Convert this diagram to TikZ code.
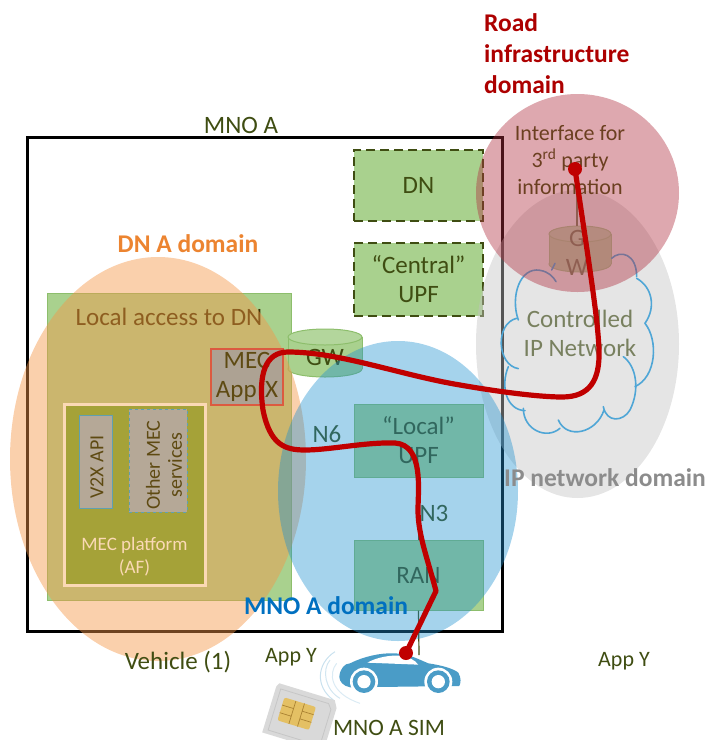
\documentclass[tikz,border=0pt]{standalone}
\usepackage{fontspec}
\setmainfont{Carlito}
\definecolor{boxgreen}{HTML}{A9D18E}
\definecolor{boxedge}{HTML}{8DBE6C}
\definecolor{txt}{HTML}{3F4D12}
\definecolor{brn}{HTML}{5E4A12}
\definecolor{underbrn}{HTML}{3A3000}
\definecolor{redline}{HTML}{C00000}
\definecolor{carblue}{HTML}{4A9CC7}
\definecolor{cloudblue}{HTML}{4FA6D6}
\definecolor{olive}{HTML}{A5A238}
\definecolor{cream}{HTML}{FBD9B5}
\definecolor{svc}{HTML}{B5A897}
\definecolor{domgrey}{RGB}{195,195,195}
\definecolor{domred}{RGB}{176,48,64}
\definecolor{domorange}{RGB}{245,150,72}
\definecolor{domblue}{RGB}{30,144,208}
\definecolor{simgold}{RGB}{228,192,100}
\definecolor{simline}{RGB}{170,130,50}
\definecolor{mecred}{HTML}{DC5A40}
\definecolor{titleorange}{HTML}{EC8430}
\definecolor{titleblue}{HTML}{0070C0}
\definecolor{titlegrey}{HTML}{8C8C8C}
\definecolor{ifctxt}{HTML}{6B3F20}
\definecolor{svcedge}{HTML}{5FA0B0}
\newcommand{\gwshape}[5]{% cx, top-centre y, bottom-centre y, rx, ry
  \fill[boxgreen] (#1,#3) ellipse [x radius=#4,y radius=#5];
  \draw[boxedge,line width=1pt] (#1,#3) ellipse [x radius=#4,y radius=#5];
  \fill[boxgreen] (#1-#4,#2) rectangle (#1+#4,#3);
  \draw[boxedge,line width=1pt] (#1-#4,#2) -- (#1-#4,#3) (#1+#4,#2) -- (#1+#4,#3);
  \fill[boxgreen!88!white] (#1,#2) ellipse [x radius=#4,y radius=#5];
  \draw[boxedge,line width=1pt] (#1,#2) ellipse [x radius=#4,y radius=#5];
}
\tikzset{
  x=1pt,y=-1pt,
  base/.style={font=\fontsize{25}{29}\selectfont,text=txt,align=center},
  plainlabel/.style={base},
  greenbox/.style={base,draw=boxedge,fill=boxgreen,line width=1pt,minimum width=129pt,inner sep=0pt},
  dashbox/.style={greenbox,draw=txt,line width=2pt,dash pattern=on 9pt off 5pt},
  domtitle/.style={font=\fontsize{25.5}{31}\selectfont\bfseries,inner sep=0pt},
  thinlink/.style={draw=txt,line width=1.2pt},
  redpath/.style={draw=redline,line width=5.2pt,line cap=round,line join=round},
  cloudarc/.style={draw=cloudblue,line width=1.6pt,line cap=round},
  rotlabel/.style={font=\fontsize{20}{22}\selectfont,text=brn,align=center,rotate=90}
}
\begin{document}
\begin{tikzpicture}
\useasboundingbox (0,0) rectangle (707,740);
% MNO frame
\node[draw=black,line width=3pt,minimum width=475pt,minimum height=494pt,inner sep=0pt] (frame) at (264.5,384) {};
\node[plainlabel] (mnoa) at (241,125) {MNO A};
% Green boxes
\node[greenbox,minimum width=244pt,minimum height=307pt] (local) at (169,446.5) {};
\node[base,text=underbrn] (localtxt) at (169,317) {Local access to DN};
\node[dashbox,minimum height=71pt] (dn) at (418.5,185.5) {DN};
\node[dashbox,minimum height=73pt,text width=129pt] (cupf) at (418.5,279.5) {“Central”\\UPF};
\node[greenbox,minimum height=73pt,text width=129pt] (lupf) at (418.5,440.5) {“Local”\\UPF};
\node[greenbox,minimum height=70pt] (ran) at (418.5,575) {RAN};
% Gateways
\gwshape{325}{337}{369}{37}{8}
\node[base] (gw1) at (325,357) {GW};
\gwshape{580}{234}{264}{31}{8}
\node[base,inner sep=0pt,minimum width=62pt,minimum height=46pt] (gw2) at (580,249) {};
\node[base] (gw2g) at (577,238) {G};
\node[base] (gw2w) at (577,267) {W};
% Thin links
\coordinate (carTop) at (419,655);
\coordinate (gwUp) at (577,190);
\draw[thinlink] (lupf.south) -- (ran.north);
\draw[thinlink] (ran.south) -- (carTop);
\draw[thinlink] (gw2.north -| gwUp) -- (gwUp);
\node[plainlabel] (n6) at (327,434) {N6};
\node[plainlabel] (n3) at (434,513) {N3};
\node[base] (cipn) at (580,333) {Controlled\\IP Network};
% Domain ellipses
\fill[domgrey,opacity=.44] (577.5,344) ellipse [x radius=101.5,y radius=154];
% Cloud
\begin{scope}[shift={(460,90)},x=0.3333pt,y=-0.3333pt]
\draw[cloudarc] (175,690) .. controls (150,620) and (180,530) .. (240,541) .. controls (265,545) and (280,560) .. (288,575);
\draw[cloudarc] (275,540) -- (285,520);
\draw[cloudarc] (455,505) .. controls (480,480) and (530,490) .. (530,560);
\draw[cloudarc] (530,565) .. controls (575,590) and (590,650) .. (555,700);
\draw[cloudarc] (555,700) .. controls (595,750) and (590,860) .. (525,890);
\draw[cloudarc] (490,800) .. controls (530,830) and (540,900) .. (510,960) .. controls (490,995) and (440,1000) .. (430,950);
\draw[cloudarc] (432,960) .. controls (410,1030) and (320,1050) .. (295,990);
\draw[cloudarc] (300,1015) .. controls (260,1050) and (190,1020) .. (190,955);
\draw[cloudarc] (195,962) .. controls (140,960) and (120,890) .. (145,830);
\draw[cloudarc] (175,836) .. controls (110,825) and (105,700) .. (170,685);
\end{scope}
\fill[domred,opacity=.42] (577.5,193) ellipse [x radius=101.5,y radius=99];
\fill[domorange,opacity=.45] (158,459) ellipse [x radius=148,y radius=202];
\fill[domblue,opacity=.4] (398,491) ellipse [x radius=120,y radius=150];
% MEC platform
\node[draw=cream,line width=3pt,fill=olive,minimum width=141pt,minimum height=181pt,inner sep=0pt] (mecp) at (134.5,494.5) {};
\node[font=\fontsize{19}{23}\selectfont,text=cream,align=center] (mecptxt) at (134.5,557) {MEC platform\\(AF)};
\node[draw=svcedge,fill=svc,line width=1pt,minimum width=33pt,minimum height=93pt,inner sep=0pt] (v2x) at (95.5,461.5) {};
\node[rotlabel] at (97,467) {V2X API};
\node[draw=svcedge,dashed,fill=svc,line width=1pt,minimum width=58pt,minimum height=103pt,inner sep=0pt] (other) at (158,460.5) {};
\node[rotlabel] at (164,465) {Other MEC\\services};
\node[draw=mecred,fill=svc!85!gray,line width=1.5pt,minimum width=72pt,minimum height=56pt,inner sep=0pt,text width=72pt,base,text=brn] (mec) at (247,377) {MEC\\App X};
% Domain titles
\node[domtitle,text=redline!90!black,align=left,anchor=north west] (road) at (484,13) {Road\\infrastructure\\domain};
\node[domtitle,text=titleorange] (dndom) at (188,244) {DN A domain};
\node[domtitle,text=titleblue] (mnodom) at (326,606) {MNO A domain};
\node[domtitle,text=titlegrey] (ipdom) at (605,478) {IP network domain};
% Vehicle
\node[plainlabel] (veh) at (178,662) {Vehicle (1)};
\node[font=\fontsize{22}{25}\selectfont,text=txt] (appy1) at (291,657) {App Y};
\node[font=\fontsize{22}{25}\selectfont,text=txt] (appy2) at (624,661) {App Y};
% Car
\begin{scope}[shift={(250,580)},x=0.3333pt,y=-0.3333pt]
\fill[carblue] (268,290) .. controls (270,265) and (285,250) .. (300,250) .. controls (340,230) and (390,218) .. (435,220) .. controls (480,222) and (510,240) .. (535,250) .. controls (570,255) and (610,265) .. (625,278) .. controls (635,295) and (632,310) .. (628,318) -- (300,322) .. controls (280,318) and (268,305) .. (268,290) -- cycle;
\fill[white] (352,248) .. controls (380,232) and (420,225) .. (450,227) .. controls (475,230) and (495,240) .. (505,254) -- cycle;
\fill[white] (342,305) circle [radius=42];
\fill[white] (565,305) circle [radius=42];
\fill[carblue] (342,305) circle [radius=34];
\fill[carblue] (565,305) circle [radius=34];
\fill[white] (342,305) circle [radius=20];
\fill[white] (565,305) circle [radius=20];
\draw[carblue!30!white,line width=1pt] (255,215) .. controls (200,250) and (195,320) .. (250,360);
\draw[carblue!25!white,line width=1pt] (240,240) .. controls (215,270) and (225,330) .. (270,355);
\draw[carblue!20!white,line width=1pt] (260,250) .. controls (235,280) and (240,340) .. (330,370);
\end{scope}
% SIM
\begin{scope}[shift={(301,715)},rotate=-17]
\fill[gray!30!white] (-30,-24) -- (28,-24) -- (32,-17) -- (32,28) -- (-32,28) -- (-32,-20) -- cycle;
\draw[gray!45!white,line width=.8pt] (-27,-19) -- (23,-19) -- (27,-14) -- (27,24) -- (-27,24) -- cycle;
\fill[simgold,rounded corners=2pt] (-21,-12) rectangle (12,12);
\draw[simline,line width=.7pt] (-21,-4) -- (-9,-4) (-21,4) -- (-9,4) (0,-4) -- (12,-4) (0,4) -- (12,4) (-9,-12) -- (-9,12) (0,-12) -- (0,12);
\end{scope}
\node[font=\fontsize{23.5}{28}\selectfont,text=txt,inner sep=0pt] (sim) at (389,728) {MNO A SIM};
% Interface text
\node[font=\fontsize{22}{27}\selectfont,text=ifctxt,align=center] (ifc) at (570,160) {Interface for\\3\textsuperscript{rd} party\\information};
% Red path
\coordinate (carPt) at (406,653);
\coordinate (infoPt) at (575,169);
\draw[redpath] (carPt) -- (436,591) .. controls (428,560) and (418,535) .. (418,510) .. controls (418,490) and (424,445) .. (395,443) .. controls (365,442) and (330,450) .. (305,450) .. controls (285,450) and (270,445) .. (263,410) .. controls (258,375) and (265,352) .. (288,352) .. controls (340,352) and (400,375) .. (460,385) .. controls (500,392) and (540,397) .. (562,397) .. controls (590,397) and (600,380) .. (599,350) .. controls (598,320) and (590,270) .. (575,169);
\fill[redline] (carPt) circle [radius=7];
\fill[redline] (infoPt) circle [radius=7];
\end{tikzpicture}
\end{document}
